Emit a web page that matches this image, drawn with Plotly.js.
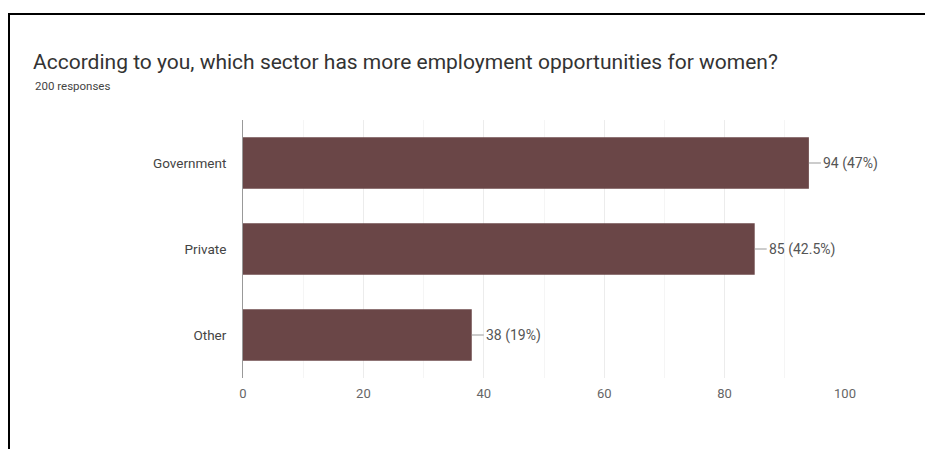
<!DOCTYPE html>
<html>
<head>
<meta charset="utf-8">
<script src="https://cdn.plot.ly/plotly-3.0.1.min.js"></script>
<style>
  html, body { margin: 0; padding: 0; background: #fff; }
  #chart { width: 925px; height: 449px; }
  #frame { position: absolute; left: 8px; top: 13px; right: 0; bottom: 0;
           border-top: 2px solid #000; border-left: 2px solid #000; pointer-events: none; }
</style>
</head>
<body>
<div id="chart"></div>
<div id="frame"></div>
<script>
const categories = ["Government", "Private", "Other"];
const counts = [94, 85, 38];
const percents = ["47%", "42.5%", "19%"];
const xTicks = [0, 20, 40, 60, 80, 100];

const barColor = "#6a4647";
const FONT = "Roboto, Arial, sans-serif";

const trace = {
  type: "bar",
  orientation: "h",
  y: categories,
  x: counts,
  marker: { color: barColor },
  width: 0.6,
  hoverinfo: "none"
};

const annotations = categories.map((c, i) => ({
  x: counts[i],
  y: c,
  xref: "x",
  yref: "y",
  text: counts[i] + " (" + percents[i] + ")",
  showarrow: true,
  arrowhead: 0,
  arrowwidth: 1,
  arrowcolor: "#999",
  ax: 12,
  ay: 0,
  xanchor: "left",
  standoff: 0,
  startstandoff: 0,
  font: { family: FONT, size: 14, color: "#555" }
}));

annotations.push({
  xref: "paper", yref: "paper",
  x: (33 - 243) / 602, y: 1.0,
  yanchor: "bottom",
  xanchor: "left",
  yshift: 25,
  showarrow: false,
  text: "200 responses",
  font: { family: FONT, size: 11.5, color: "#444" }
});

const layout = {
  width: 925,
  height: 449,
  margin: { l: 243, r: 80, t: 120, b: 71 },
  paper_bgcolor: "#fff",
  plot_bgcolor: "#fff",
  showlegend: false,
  title: {
    text: "According to you, which sector has more employment opportunities for women?",
    x: 33 / 925,
    xanchor: "left",
    y: 1 - 62 / 449,
    yanchor: "middle",
    font: { family: FONT, size: 21, color: "#333" }
  },
  xaxis: {
    range: [0, 100],
    tickvals: xTicks,
    ticktext: xTicks.map(String),
    showgrid: true,
    gridcolor: "#ececec",
    gridwidth: 1,
    minor: { dtick: 10, showgrid: true, gridcolor: "#f5f5f5" },
    zeroline: false,
    showline: false,
    ticks: "",
    ticklen: 0,
    ticklabelstandoff: 6,
    tickfont: { family: FONT, size: 13, color: "#666" },
    fixedrange: true
  },
  yaxis: {
    autorange: "reversed",
    categoryorder: "array",
    categoryarray: categories,
    showline: true,
    linecolor: "#999",
    linewidth: 1,
    ticks: "",
    showgrid: false,
    zeroline: false,
    ticklabelstandoff: 13,
    tickfont: { family: FONT, size: 13.5, color: "#444" },
    fixedrange: true
  },
  annotations: annotations,
  bargap: 0.4
};

Plotly.newPlot("chart", [trace], layout, { displayModeBar: false, staticPlot: true });
</script>
</body>
</html>
